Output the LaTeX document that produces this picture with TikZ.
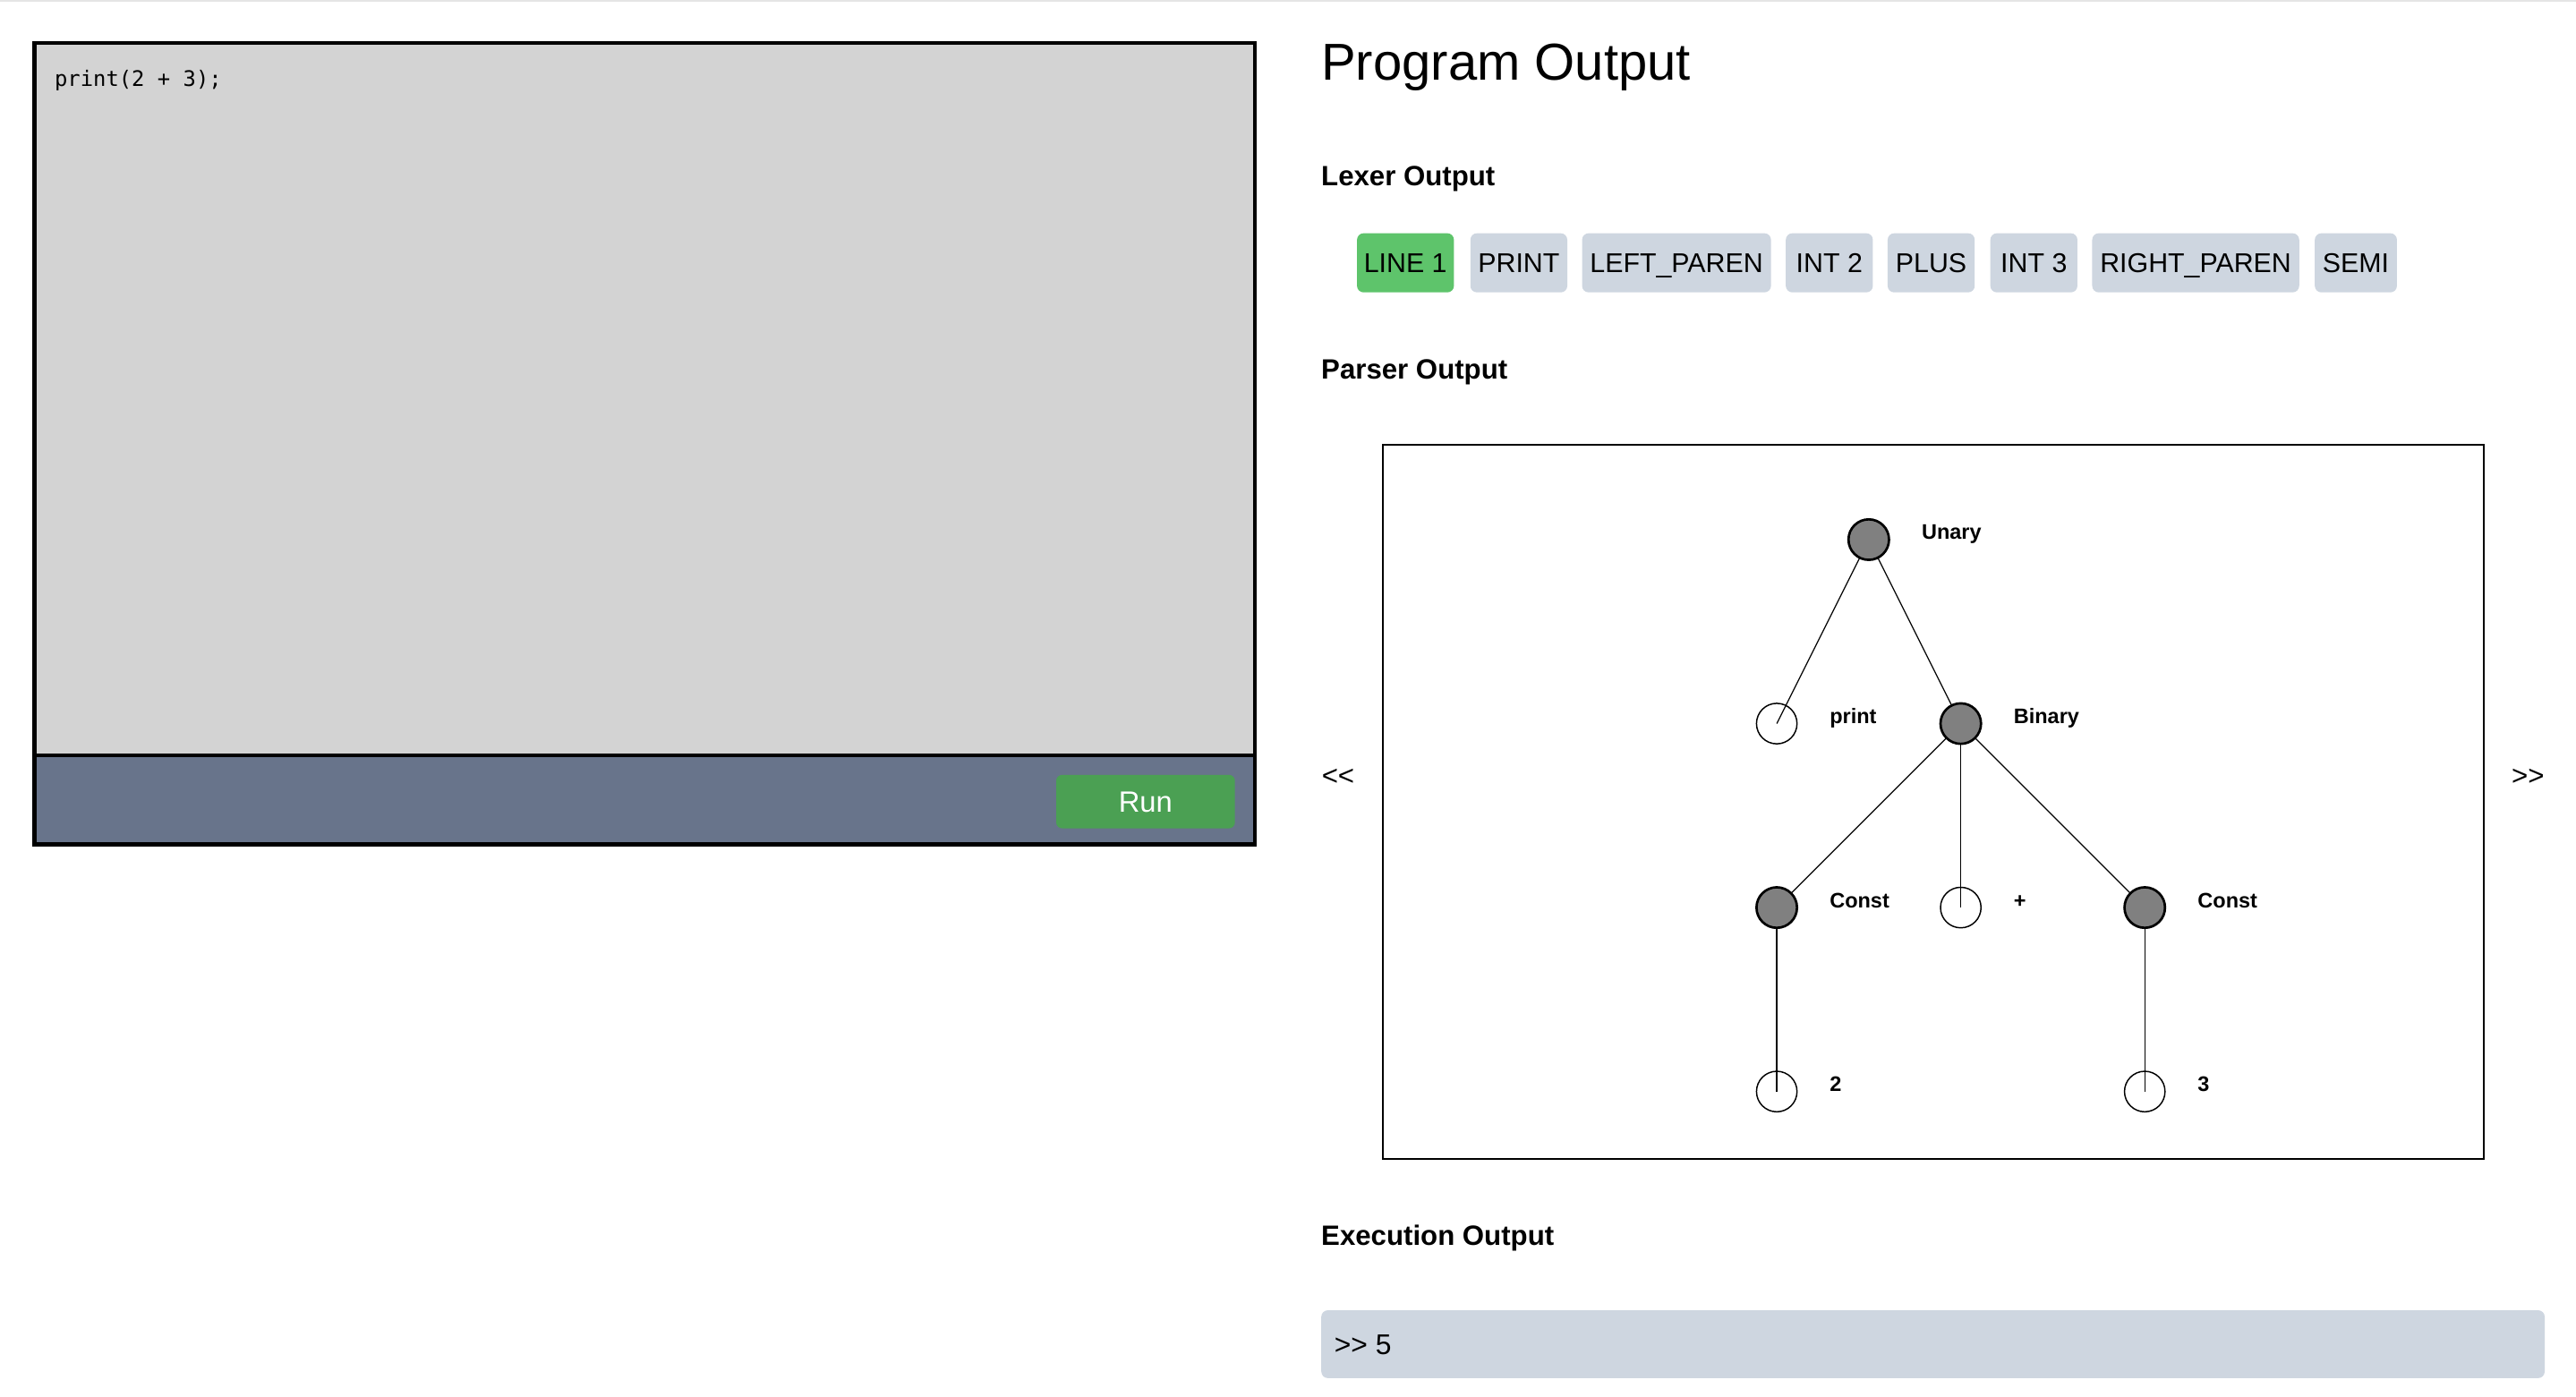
\documentclass[tikz,border=0pt]{standalone}
\usepackage{fontspec}
\setmainfont{Liberation Sans}
\setmonofont{DejaVu Sans Mono}
\usetikzlibrary{backgrounds}

\definecolor{editorgray}{RGB}{211,211,211}
\definecolor{barslate}{RGB}{104,116,139}
\definecolor{rungreen}{RGB}{75,160,83}
\definecolor{linegreen}{RGB}{94,196,107}
\definecolor{tokengray}{RGB}{206,214,224}
\definecolor{nodegray}{RGB}{128,128,128}

\begin{document}
\begin{tikzpicture}[x=0.75pt,y=-0.75pt,
    token/.style={rounded corners=3pt, minimum height=27pt, inner sep=0pt,
      text height=8.9pt, text depth=0pt, font=\fontsize{12.4}{14}\selectfont},
    heading/.style={anchor=base west, inner sep=0pt, font=\bfseries\fontsize{12.75}{15}\selectfont},
    astnode/.style={circle, draw, fill=nodegray, line width=1.1pt, minimum size=18.5pt, inner sep=0pt},
    astleaf/.style={circle, draw, line width=0.6pt, minimum size=18.5pt, inner sep=0pt},
    lbl/.style={anchor=base west, xshift=24pt, inner sep=0pt, font=\bfseries\fontsize{9.6}{11}\selectfont}]
\useasboundingbox (0,0) rectangle (1568,850);
\draw[gray!20, line width=0.75pt] (0,0.5) -- (1568,0.5);

% editor
\fill[editorgray] (21,26) rectangle (764,460);
\fill[barslate] (21,460) rectangle (764,514);
\draw[line width=1.7pt] (21,26) rectangle (764,514);
\draw[line width=1.7pt] (21,460) -- (764,460);
\node[anchor=base west, inner sep=0pt, font=\ttfamily\fontsize{9.75}{12}\selectfont] (code) at (33,52.5) {print(2 + 3);};
\node[fill=rungreen, rounded corners=2.7pt, minimum width=81.6pt, minimum height=24.4pt, inner sep=0pt,
  text=white, text height=9.6pt, text depth=0pt, font=\fontsize{13.4}{15}\selectfont] (run) at (697.3,488) {Run};

% output panel
\node[anchor=base west, inner sep=0pt, font=\fontsize{23.7}{28}\selectfont] (title) at (804,48.7) {Program Output};
\node[heading] (lexer) at (804,113) {Lexer Output};
\node[heading] (parser) at (804,230.6) {Parser Output};
\node[heading] (exec) at (804,758.2) {Execution Output};

\foreach \X/\W/\C/\Name [count=\i] in {855.5/59/linegreen/LINE 1, 924.5/59/tokengray/PRINT,
    1020.5/115/tokengray/LEFT\_PAREN, 1113.5/53/tokengray/INT 2, 1175.5/53/tokengray/PLUS,
    1238/53/tokengray/INT 3, 1336.5/126/tokengray/RIGHT\_PAREN, 1434/50/tokengray/SEMI}
  \node[token, fill=\C, minimum width=\W*0.75pt] (tok\i) at (\X,160) {\Name};

% parser tree
\draw[line width=0.8pt] (841.7,271) rectangle (1511.8,705.5);
\node[inner sep=0pt, font=\fontsize{12.75}{15}\selectfont] (prev) at (814.5,473) {<\kern0pt<};
\node[inner sep=0pt, font=\fontsize{12.75}{15}\selectfont] (next) at (1538.8,473) {>\kern0pt>};

\node[astnode] (unary) at (1137.5,328.5) {};
\node[astleaf] (print) at (1081.5,440.5) {};
\node[astnode] (binary) at (1193.5,440.5) {};
\node[astnode] (lconst) at (1081.5,552.5) {};
\node[astleaf] (plus) at (1193.5,552.5) {};
\node[astnode] (rconst) at (1305.5,552.5) {};
\node[astleaf] (two) at (1081.5,664.5) {};
\node[astleaf] (three) at (1305.5,664.5) {};

\node[lbl] (unaryT) at (unary.center) {Unary};
\node[lbl] (printT) at (print.center) {print};
\node[lbl] (binaryT) at (binary.center) {Binary};
\node[lbl] (lconstT) at (lconst.center) {Const};
\node[lbl] (plusT) at (plus.center) {+};
\node[lbl] (rconstT) at (rconst.center) {Const};
\node[lbl] (twoT) at (two.center) {2};
\node[lbl] (threeT) at (three.center) {3};

\begin{pgfonlayer}{background}
\draw[line width=0.5pt] (unary.center) -- (print.center);
\draw[line width=0.5pt] (unary.center) -- (binary.center);
\draw[line width=0.5pt] (binary.center) -- (lconst.center);
\draw[line width=0.5pt] (binary.center) -- (plus.center);
\draw[line width=0.5pt] (binary.center) -- (rconst.center);
\draw[line width=0.5pt] (lconst.center) -- (two.center);
\draw[line width=0.5pt] (rconst.center) -- (three.center);
\end{pgfonlayer}

% execution
\node[fill=tokengray, rounded corners=3pt, minimum width=558.5pt, minimum height=31pt, inner sep=0pt] (execbar) at (1176.6,818.3) {};
\node[anchor=base west, inner sep=0pt, font=\fontsize{13}{15}\selectfont] (result) at (812,824.4) {>\kern0pt> 5};
\end{tikzpicture}
\end{document}
